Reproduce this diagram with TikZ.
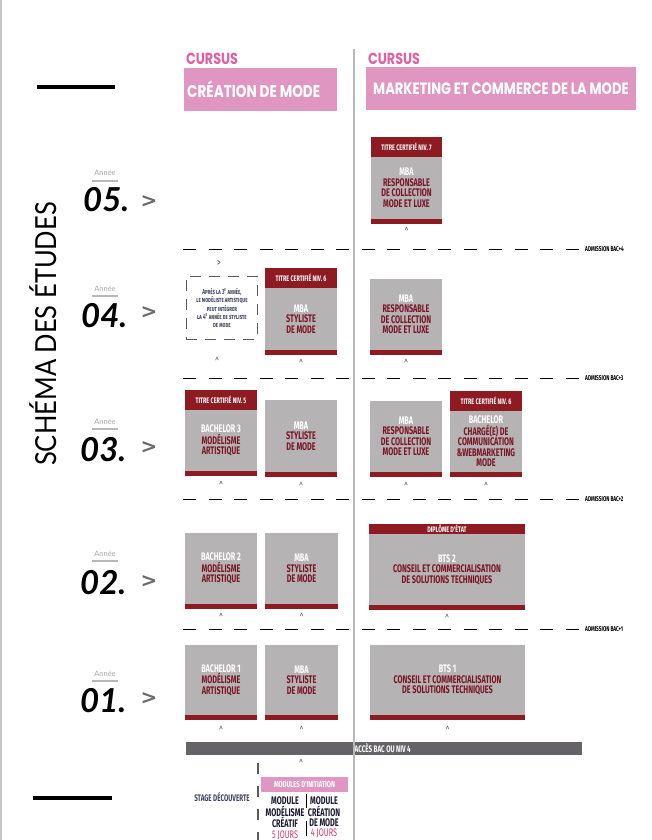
\documentclass[tikz,border=0pt]{standalone}
\usepackage{fontspec}
\setmainfont{Lato}
\newfontfamily\titlefont[FakeStretch=0.88]{Lato}
\newfontfamily\symfont{DejaVu Sans}
\newfontfamily\condfont[FakeStretch=0.66]{Fira Sans}
\newfontfamily\narrowfont[FakeStretch=0.68]{Fira Sans}
\newfontfamily\headfont[FakeStretch=0.8]{Poppins}
\usetikzlibrary{positioning}

\definecolor{rosebox}{HTML}{DF97C1}
\definecolor{rosetext}{HTML}{E260A2}
\definecolor{greybox}{HTML}{B5B3B4}
\definecolor{bordeaux}{HTML}{8E1A22}
\definecolor{bordeauxtext}{HTML}{7A1526}
\definecolor{darkbar}{HTML}{656367}
\definecolor{caretgrey}{HTML}{5A5A5A}
\definecolor{anneegrey}{HTML}{A9A4A7}
\definecolor{slate}{HTML}{404560}
\definecolor{navy}{HTML}{1A1A30}
\definecolor{jours}{HTML}{D8336C}

\newcommand{\wl}[1]{\textcolor{white}{#1}}
% grey course box with its bordeaux band underneath
\newcommand{\formbox}[6]{%
  \node[body,minimum width=#4pt,minimum height=#5pt] (#1) at (#2,#3) {#6};
  \fill[band] (#1.south west) rectangle ++(#4,5);
}

\begin{document}
\begin{tikzpicture}[
		x=1pt,y=-1pt,
		frameline/.style={gray!45,line width=1.5pt},
		colline/.style={gray!55,line width=1.2pt},
		cursus/.style={text=rosetext,anchor=west,inner sep=0pt,font=\headfont\bfseries\fontsize{16}{16}\selectfont},
		track/.style={fill=rosebox,anchor=north west,inner sep=0pt,outer sep=0pt,minimum height=43pt},
		tracklab/.style={text=white,anchor=west,inner sep=0pt,font=\headfont\bfseries\fontsize{17}{17}\selectfont},
		annee/.style={text=anneegrey,inner sep=0pt,font=\fontsize{7.5}{8}\selectfont},
		anneebar/.style={fill=anneegrey!80},
		yearnum/.style={anchor=west,inner sep=0pt,font=\bfseries\itshape\fontsize{33}{33}\selectfont},
		yeararrow/.style={text=caretgrey!90,inner sep=0pt,font=\symfont\bfseries\fontsize{20}{20}\selectfont},
		body/.style={fill=greybox,anchor=north west,inner sep=0pt,outer sep=0pt,align=center,
			text=bordeauxtext,font=\condfont\bfseries\fontsize{11}{10.5}\selectfont},
		band/.style={fill=bordeaux},
		certhead/.style={fill=bordeaux,text=white,inner sep=0pt,outer sep=0pt,
			font=\narrowfont\bfseries\fontsize{8}{8}\selectfont},
		upmark/.style={text=caretgrey,inner sep=0pt,font=\condfont\fontsize{11}{11}\selectfont},
		admline/.style={black,line width=1pt,dash pattern=on 13pt off 12.5pt},
		admission/.style={anchor=west,inner sep=0pt,font=\narrowfont\bfseries\fontsize{7}{7}\selectfont},
		note/.style={draw=caretgrey,line width=0.9pt,dash pattern=on 11pt off 8pt,anchor=north west,
			inner sep=0pt,align=center,text=slate,font=\condfont\bfseries\fontsize{7.2}{8.3}\selectfont},
		modhead/.style={fill=rosebox,text=white,inner sep=0pt,minimum width=87pt,minimum height=15pt,
			font=\narrowfont\bfseries\fontsize{8.7}{9}\selectfont},
		module/.style={anchor=north,inner sep=0pt,align=center,text=navy,
			font=\condfont\bfseries\fontsize{11}{10.3}\selectfont},
		modsep/.style={black,line width=1pt}
		]
		% ===== Frame =====
		\useasboundingbox (0,0) rectangle (652,840);
		\draw[frameline] (0.8,0) -- (0.8,840);
		\fill (37,85) rectangle (115,89);
		\fill (33,796) rectangle (112,800);
		\node[rotate=90,anchor=base,inner sep=0pt,font=\titlefont\fontsize{29}{29}\selectfont] (titre) at (56,334) {SCHÉMA DES ÉTUDES};
		% ===== Cursus headers =====
		\node[cursus] (cur1) at (186,59) {CURSUS};
		\node[cursus] (cur2) at (368,59) {CURSUS};
		\node[track,minimum width=153pt] (crea) at (184,68) {};
		\node[tracklab] (crealab) at (187,89) {CRÉATION DE MODE};
		\node[track,minimum width=270pt] (mkt) at (366,67) {};
		\node[tracklab,font=\headfont\bfseries\fontsize{16.4}{16}\selectfont] (mktlab) at (373,89) {MARKETING ET COMMERCE DE LA MODE};
		% ===== Years =====
		\node[annee] (a5) at (105,173) {Année};
		\fill[anneebar] (92,179.5) rectangle (118,181.5);
		\node[yearnum] (n5) at (83,200) {05.};
		\node[yeararrow] (g5) at (149,202) {>};
		\node[annee] (a4) at (105,289) {Année};
		\fill[anneebar] (92,295) rectangle (118,297);
		\node[yearnum] (n4) at (81,316) {04.};
		\node[yeararrow] (g4) at (149,313) {>};
		\node[annee] (a3) at (105,422) {Année};
		\fill[anneebar] (92,427.5) rectangle (118,429.5);
		\node[yearnum] (n3) at (80,450) {03.};
		\node[yeararrow] (g3) at (149,448) {>};
		\node[annee] (a2) at (105,554) {Année};
		\fill[anneebar] (92,560) rectangle (118,562);
		\node[yearnum] (n2) at (80,583) {02.};
		\node[yeararrow] (g2) at (149,582) {>};
		\node[annee] (a1) at (105,674) {Année};
		\fill[anneebar] (92,680) rectangle (118,682);
		\node[yearnum] (n1) at (80,701) {01.};
		\node[yeararrow] (g1) at (149,699) {>};
		% ===== Admission lines =====
		\draw[admline] (183,249) -- (582,249);
		\node[admission] (bac4) at (585,249) {ADMISSION BAC+4};
		\draw[admline] (183,378) -- (582,378);
		\node[admission] (bac3) at (585,378) {ADMISSION BAC+3};
		\draw[admline] (183,499) -- (582,499);
		\node[admission] (bac2) at (585,499) {ADMISSION BAC+2};
		\draw[admline] (183,629) -- (582,629);
		\node[admission] (bac1) at (585,629) {ADMISSION BAC+1};
		% ===== Year 5 =====
		\formbox{m5}{371}{157}{71}{62}{\wl{MBA}\\RESPONSABLE\\DE COLLECTION\\MODE ET LUXE}
		\node[certhead,minimum width=71pt,minimum height=20pt,above=0pt of m5] (h5) {TITRE CERTIFIÉ NIV. 7};
		\node[upmark,below=8pt of m5] (u5) {\textasciicircum};
		% ===== Year 4 =====
		\node[note,minimum width=71pt,minimum height=63pt] (d4) at (186,276)
		{\scshape Après la 3\textsuperscript{e} année,\\\scshape le modéliste artistique\\\scshape peut intégrer\\\scshape la 4\textsuperscript{e} année de styliste\\\scshape de mode};
		\node[upmark] (r4) at (219,263) {>};
		\formbox{c4}{265}{288}{72}{62}{\wl{MBA}\\STYLISTE\\DE MODE}
		\node[certhead,minimum width=72pt,minimum height=20pt,above=0pt of c4] (h4) {TITRE CERTIFIÉ NIV. 6};
		\formbox{m4}{370}{279}{72}{71}{\wl{MBA}\\RESPONSABLE\\DE COLLECTION\\MODE ET LUXE}
		\node[upmark] (u4a) at (217,362) {\textasciicircum};
		\node[upmark,below=9pt of c4] (u4b) {\textasciicircum};
		\node[upmark,below=9pt of m4] (u4c) {\textasciicircum};
		% ===== Year 3 =====
		\formbox{c3a}{185}{410}{72}{61}{\wl{BACHELOR 3}\\MODÉLISME\\ARTISTIQUE}
		\node[certhead,minimum width=72pt,minimum height=20pt,above=0pt of c3a] (h3a) {TITRE CERTIFIÉ NIV. 5};
		\formbox{c3b}{265}{400}{72}{72}{\wl{MBA}\\STYLISTE\\DE MODE}
		\formbox{m3a}{370}{401}{72}{71}{\wl{MBA}\\RESPONSABLE\\DE COLLECTION\\MODE ET LUXE}
		\formbox{m3b}{450}{411}{72}{61}{\wl{BACHELOR}\\CHARGÉ(E) DE\\COMMUNICATION\\\&WEBMARKETING\\MODE}
		\node[certhead,minimum width=72pt,minimum height=20pt,above=0pt of m3b] (h3b) {TITRE CERTIFIÉ NIV. 6};
		\node[upmark,below=10pt of c3a] (u3a) {\textasciicircum};
		\node[upmark,below=10pt of c3b] (u3b) {\textasciicircum};
		\node[upmark,below=10pt of m3a] (u3c) {\textasciicircum};
		\node[upmark,below=10pt of m3b] (u3d) {\textasciicircum};
		% ===== Year 2 =====
		\formbox{c2a}{185}{533}{72}{71}{\wl{BACHELOR 2}\\MODÉLISME\\ARTISTIQUE}
		\formbox{c2b}{265}{533}{73}{71}{\wl{MBA}\\STYLISTE\\DE MODE}
		\formbox{m2}{369}{534}{156}{71}{\wl{BTS 2}\\CONSEIL ET COMMERCIALISATION\\DE SOLUTIONS TECHNIQUES}
		\node[certhead,minimum width=156pt,minimum height=10pt,above=0pt of m2] (h2) {DIPLÔME D'ÉTAT};
		\node[upmark,below=9pt of c2a] (u2a) {\textasciicircum};
		\node[upmark,below=9pt of c2b] (u2b) {\textasciicircum};
		\node[upmark,below=9pt of m2] (u2c) {\textasciicircum};
		% ===== Year 1 =====
		\formbox{c1a}{185}{645}{72}{70}{\wl{BACHELOR 1}\\MODÉLISME\\ARTISTIQUE}
		\formbox{c1b}{265}{645}{73}{70}{\wl{MBA}\\STYLISTE\\DE MODE}
		\formbox{m1}{370}{645}{155}{70}{\wl{BTS 1}\\CONSEIL ET COMMERCIALISATION\\DE SOLUTIONS TECHNIQUES}
		\node[upmark,below=11pt of c1a] (u1a) {\textasciicircum};
		\node[upmark,below=11pt of c1b] (u1b) {\textasciicircum};
		\node[upmark,below=11pt of m1] (u1c) {\textasciicircum};
		% ===== Access bar =====
		\node[fill=darkbar,anchor=north west,inner sep=0pt,minimum width=396pt,minimum height=13pt] (acces) at (186,742) {};
		\node[anchor=west,inner sep=0pt,text=white,font=\condfont\bfseries\fontsize{9.5}{9.5}\selectfont] (acceslab) at (354.5,748.5) {ACCÈS BAC OU NIV 4};
		% ===== Discovery modules =====
		\node[upmark] (u0) at (301,764) {\textasciicircum};
		\draw[caretgrey,line width=1.2pt,dash pattern=on 11pt off 12pt] (258,763) -- (258,840);
		\node[inner sep=0pt,text=slate,font=\condfont\bfseries\fontsize{9.5}{9.5}\selectfont] (stage) at (222,797) {STAGE DÉCOUVERTE};
		\node[modhead] (modules) at (304.5,784.5) {MODULES D'INITIATION};
		\node[module] (modA) at (285,796.5) {MODULE\\MODÉLISME\\CRÉATIF\\\textcolor{jours}{\mdseries 5 JOURS}};
		\node[module] (modB) at (324,796.5) {MODULE\\CRÉATION\\DE MODE\\\textcolor{jours}{\mdseries 4 JOURS}};
		\draw[modsep] (306,794) -- (306,808);
		\draw[modsep] (306,821) -- (306,836);
		% ===== Column divider =====
		\draw[colline] (354,49) -- (354,840);
	\end{tikzpicture}
\end{document}
